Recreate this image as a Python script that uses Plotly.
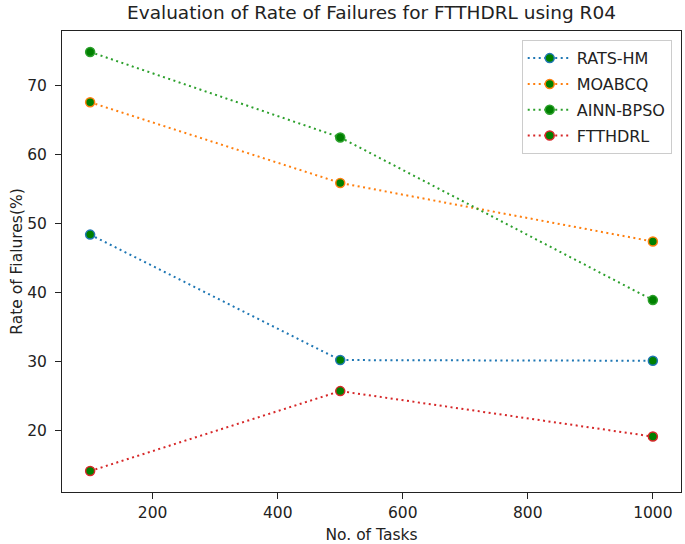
import plotly.graph_objects as go

tasks = [100, 500, 1000]
rats_hm = [48.4, 30.2, 30.1]
moabcq = [67.6, 55.9, 47.4]
ainn_bpso = [74.9, 62.5, 38.9]
ftthdrl = [14.1, 25.7, 19.1]

series_names = ["RATS-HM", "MOABCQ", "AINN-BPSO", "FTTHDRL"]
series_values = [rats_hm, moabcq, ainn_bpso, ftthdrl]
series_colors = ["#1f77b4", "#ff7f0e", "#2ca02c", "#d62728"]

fig = go.Figure()
for name, vals, col in zip(series_names, series_values, series_colors):
    fig.add_trace(go.Scatter(
        x=tasks, y=vals, name=name, mode="lines+markers", legendgroup=name,
        line=dict(color=col, width=2, dash="2px,3.5px"),
        marker=dict(symbol="circle", size=9, color="#008000",
                    line=dict(color=col, width=1.5)),
    ))

all_y = [v for s in series_values for v in s]
ymin, ymax = min(all_y), max(all_y)
pad = (ymax - ymin) * 0.05
xmin, xmax = min(tasks), max(tasks)
xpad = (xmax - xmin) * 0.05

font = "DejaVu Sans, sans-serif"
axis_common = dict(
    showline=True, linecolor="#222", linewidth=1, mirror=True,
    ticks="outside", ticklen=6, tickcolor="#222", tickwidth=1,
    showgrid=False, zeroline=False,
    tickfont=dict(family=font, size=15.5, color="#222"),
)

fig.update_layout(
    width=685, height=544,
    margin=dict(l=62, r=4, t=31, b=52),
    paper_bgcolor="white", plot_bgcolor="white",
    title=dict(text="Evaluation of Rate of Failures for FTTHDRL using R04",
               x=0.5, xref="paper", xanchor="center", y=0.977, yanchor="middle",
               font=dict(family=font, size=18.5, color="#222")),
    xaxis=dict(range=[xmin - xpad, xmax + xpad], tickvals=[200, 400, 600, 800, 1000],
               title=dict(text="No. of Tasks", standoff=8,
                          font=dict(family=font, size=15.5, color="#222")),
               **axis_common),
    yaxis=dict(range=[ymin - pad, ymax + pad], tickvals=[20, 30, 40, 50, 60, 70],
               ticklabelstandoff=5,
               title=dict(text="Rate of Fialures(%)", standoff=0,
                          font=dict(family=font, size=15.5, color="#222")),
               **axis_common),
    legend=dict(x=0.985, y=0.98, xanchor="right", yanchor="top",
                bgcolor="rgba(255,255,255,0.9)", bordercolor="#cccccc", borderwidth=1,
                font=dict(family=font, size=16, color="#222"),
                traceorder="grouped", tracegroupgap=2, itemwidth=44),
    showlegend=True,
)

fig.write_html("out.html", config={"displayModeBar": False},
               post_script="document.body.style.margin='0';document.body.style.overflow='hidden';")
